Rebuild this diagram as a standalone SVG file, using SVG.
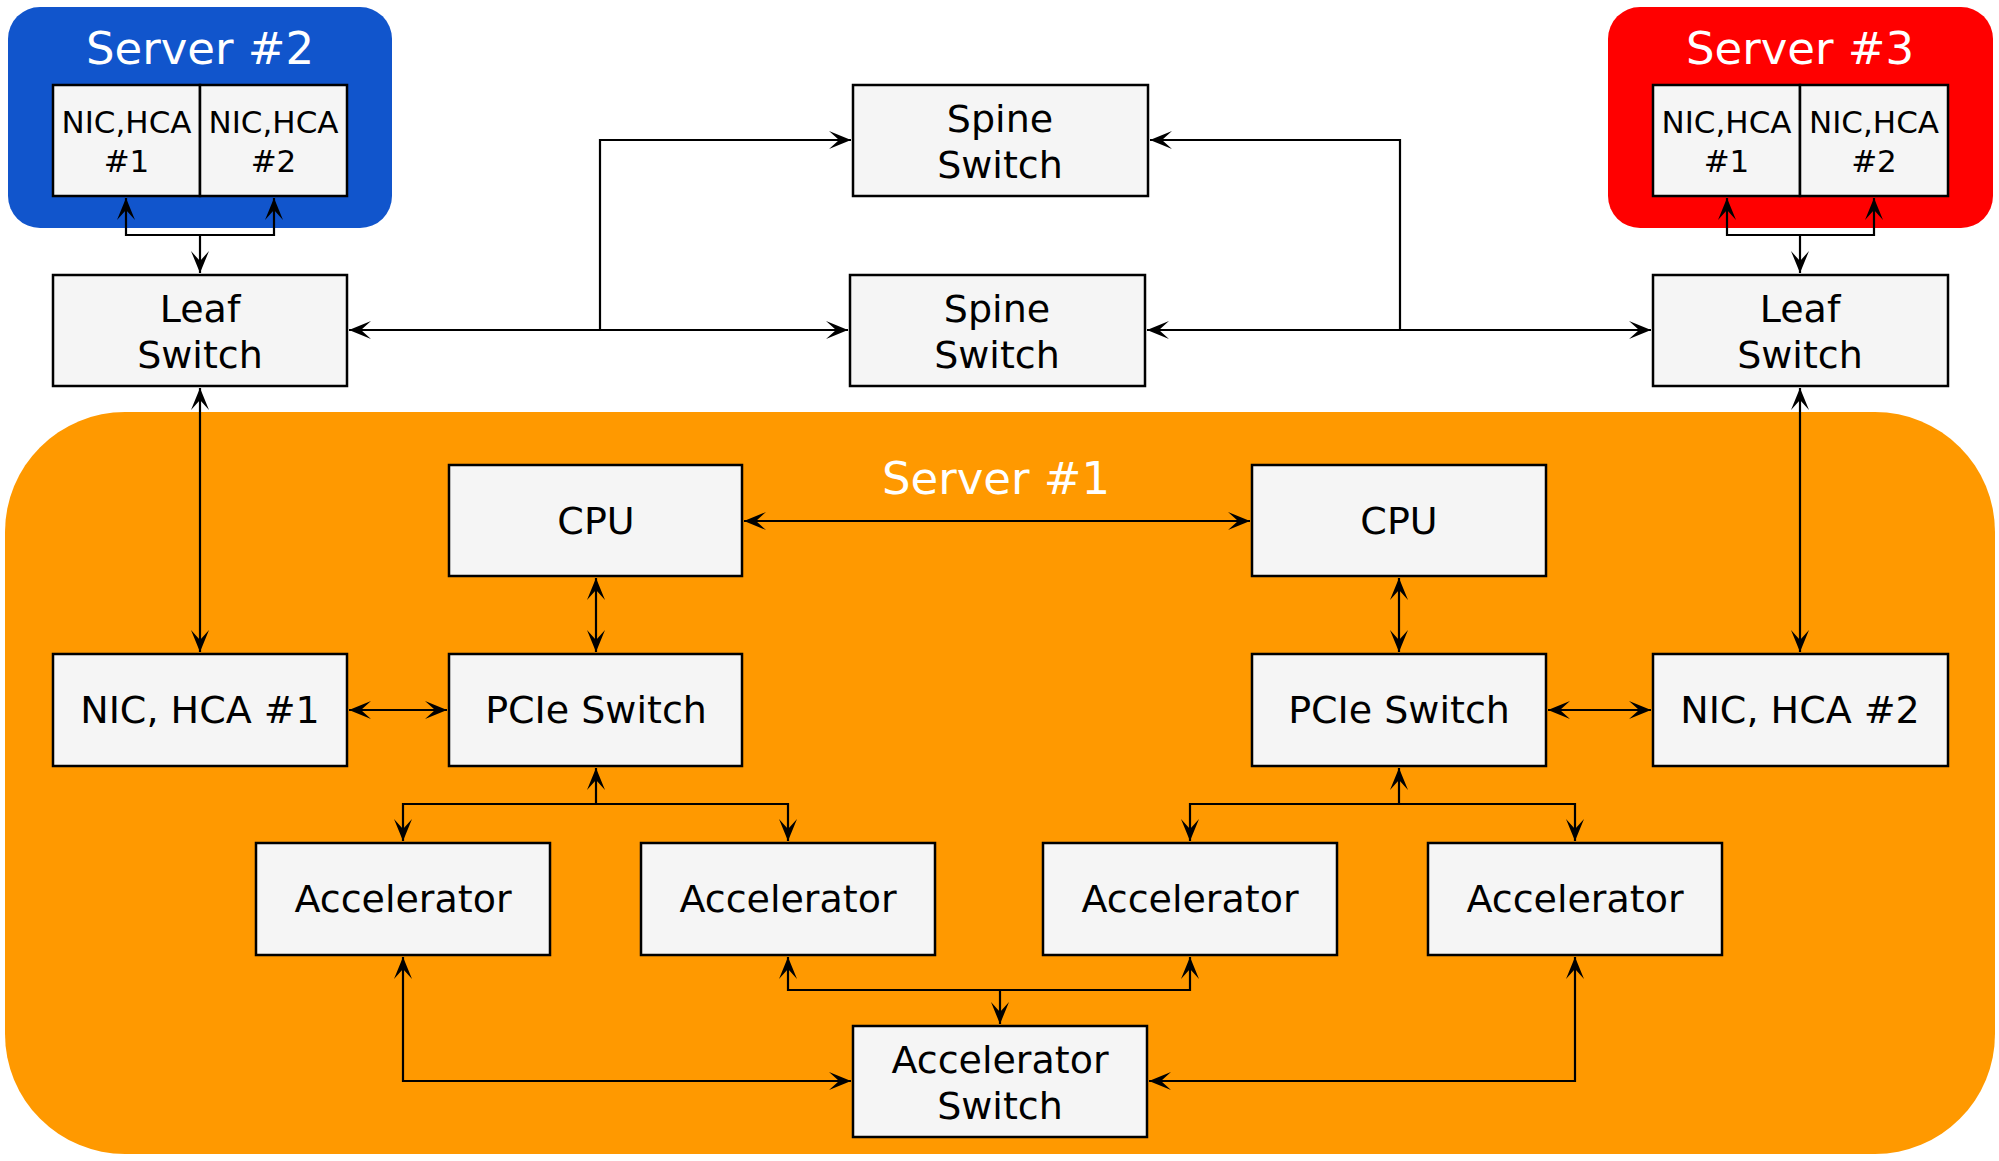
<svg xmlns="http://www.w3.org/2000/svg" width="1999" height="1161" viewBox="0 0 1999 1161">
<style>
.box{fill:#f5f5f5;stroke:#000;stroke-width:2.5}
.t{font-family:"DejaVu Sans","Open Sans",sans-serif;font-size:38px;fill:#000;text-anchor:middle}
.ts{font-family:"DejaVu Sans","Open Sans",sans-serif;font-size:31px;fill:#000;text-anchor:middle}
.title{font-family:"DejaVu Sans","Open Sans",sans-serif;font-size:45px;fill:#fff;text-anchor:middle}
.c{fill:none;stroke:#000;stroke-width:2.2}
</style>
<defs>
<marker id="a" viewBox="-24 -10 26 20" refX="0" refY="0" markerWidth="26" markerHeight="20" markerUnits="userSpaceOnUse" orient="auto-start-reverse">
<path d="M0,0 L-22,-9 L-12,0 L-22,9 Z" fill="#000"/>
</marker>
</defs>
<rect width="1999" height="1161" fill="#fff"/>
<g id="server1">
<rect x="5" y="412" width="1990" height="742" rx="120" ry="120" fill="#ff9900"/>
<text class="title" x="996" y="494">Server #1</text>
</g>
<g id="server2">
<rect x="8" y="7" width="384" height="221" rx="32" ry="32" fill="#1155cc"/>
<text class="title" x="200" y="64">Server #2</text>
</g>
<g id="server3">
<rect x="1608" y="7" width="385" height="221" rx="32" ry="32" fill="#ff0000"/>
<text class="title" x="1800" y="64">Server #3</text>
</g>
<g id="connectors">
<path class="c" d="M126,198 V235 H274 V198" marker-start="url(#a)" marker-end="url(#a)"/>
<path class="c" d="M200,235 V273" marker-end="url(#a)"/>
<path class="c" d="M1727,198 V235 H1874 V198" marker-start="url(#a)" marker-end="url(#a)"/>
<path class="c" d="M1800,235 V273" marker-end="url(#a)"/>
<path class="c" d="M349,330 H848" marker-start="url(#a)" marker-end="url(#a)"/>
<path class="c" d="M600,330 V140 H851" marker-end="url(#a)"/>
<path class="c" d="M1651,330 H1147" marker-start="url(#a)" marker-end="url(#a)"/>
<path class="c" d="M1400,330 V140 H1150" marker-end="url(#a)"/>
<path class="c" d="M200,388 V652" marker-start="url(#a)" marker-end="url(#a)"/>
<path class="c" d="M1800,388 V652" marker-start="url(#a)" marker-end="url(#a)"/>
<path class="c" d="M744,521 H1250" marker-start="url(#a)" marker-end="url(#a)"/>
<path class="c" d="M596,578 V652" marker-start="url(#a)" marker-end="url(#a)"/>
<path class="c" d="M1399,578 V652" marker-start="url(#a)" marker-end="url(#a)"/>
<path class="c" d="M349,710 H447" marker-start="url(#a)" marker-end="url(#a)"/>
<path class="c" d="M1548,710 H1651" marker-start="url(#a)" marker-end="url(#a)"/>
<path class="c" d="M403,841 V804 H788 V841" marker-start="url(#a)" marker-end="url(#a)"/>
<path class="c" d="M596,804 V768" marker-end="url(#a)"/>
<path class="c" d="M1190,841 V804 H1575 V841" marker-start="url(#a)" marker-end="url(#a)"/>
<path class="c" d="M1399,804 V768" marker-end="url(#a)"/>
<path class="c" d="M788,957 V990 H1190 V957" marker-start="url(#a)" marker-end="url(#a)"/>
<path class="c" d="M1000,990 V1024" marker-end="url(#a)"/>
<path class="c" d="M403,957 V1081 H851" marker-start="url(#a)" marker-end="url(#a)"/>
<path class="c" d="M1575,957 V1081 H1149" marker-start="url(#a)" marker-end="url(#a)"/>
</g>
<g id="nic2-1">
<rect class="box" x="53" y="85" width="147" height="111"/>
<text class="ts" x="126.5" y="133">NIC,HCA</text>
<text class="ts" x="126.5" y="172">#1</text>
</g>
<g id="nic2-2">
<rect class="box" x="200" y="85" width="147" height="111"/>
<text class="ts" x="273.5" y="133">NIC,HCA</text>
<text class="ts" x="273.5" y="172">#2</text>
</g>
<g id="nic3-1">
<rect class="box" x="1653" y="85" width="147" height="111"/>
<text class="ts" x="1726.5" y="133">NIC,HCA</text>
<text class="ts" x="1726.5" y="172">#1</text>
</g>
<g id="nic3-2">
<rect class="box" x="1800" y="85" width="148" height="111"/>
<text class="ts" x="1874" y="133">NIC,HCA</text>
<text class="ts" x="1874" y="172">#2</text>
</g>
<g id="leaf-left">
<rect class="box" x="53" y="275" width="294" height="111"/>
<text class="t" x="200" y="322">Leaf</text>
<text class="t" x="200" y="368">Switch</text>
</g>
<g id="leaf-right">
<rect class="box" x="1653" y="275" width="295" height="111"/>
<text class="t" x="1800" y="322">Leaf</text>
<text class="t" x="1800" y="368">Switch</text>
</g>
<g id="spine-1">
<rect class="box" x="853" y="85" width="295" height="111"/>
<text class="t" x="1000" y="132">Spine</text>
<text class="t" x="1000" y="178">Switch</text>
</g>
<g id="spine-2">
<rect class="box" x="850" y="275" width="295" height="111"/>
<text class="t" x="997" y="322">Spine</text>
<text class="t" x="997" y="368">Switch</text>
</g>
<g id="cpu-1">
<rect class="box" x="449" y="465" width="293" height="111"/>
<text class="t" x="596" y="534">CPU</text>
</g>
<g id="cpu-2">
<rect class="box" x="1252" y="465" width="294" height="111"/>
<text class="t" x="1399" y="534">CPU</text>
</g>
<g id="nic-hca-1">
<rect class="box" x="53" y="654" width="294" height="112"/>
<text class="t" x="200" y="723">NIC, HCA #1</text>
</g>
<g id="pcie-1">
<rect class="box" x="449" y="654" width="293" height="112"/>
<text class="t" x="596" y="723">PCIe Switch</text>
</g>
<g id="pcie-2">
<rect class="box" x="1252" y="654" width="294" height="112"/>
<text class="t" x="1399" y="723">PCIe Switch</text>
</g>
<g id="nic-hca-2">
<rect class="box" x="1653" y="654" width="295" height="112"/>
<text class="t" x="1800" y="723">NIC, HCA #2</text>
</g>
<g id="acc-1">
<rect class="box" x="256" y="843" width="294" height="112"/>
<text class="t" x="403" y="912">Accelerator</text>
</g>
<g id="acc-2">
<rect class="box" x="641" y="843" width="294" height="112"/>
<text class="t" x="788" y="912">Accelerator</text>
</g>
<g id="acc-3">
<rect class="box" x="1043" y="843" width="294" height="112"/>
<text class="t" x="1190" y="912">Accelerator</text>
</g>
<g id="acc-4">
<rect class="box" x="1428" y="843" width="294" height="112"/>
<text class="t" x="1575" y="912">Accelerator</text>
</g>
<g id="acc-switch">
<rect class="box" x="853" y="1026" width="294" height="111"/>
<text class="t" x="1000" y="1073">Accelerator</text>
<text class="t" x="1000" y="1119">Switch</text>
</g>
</svg>
